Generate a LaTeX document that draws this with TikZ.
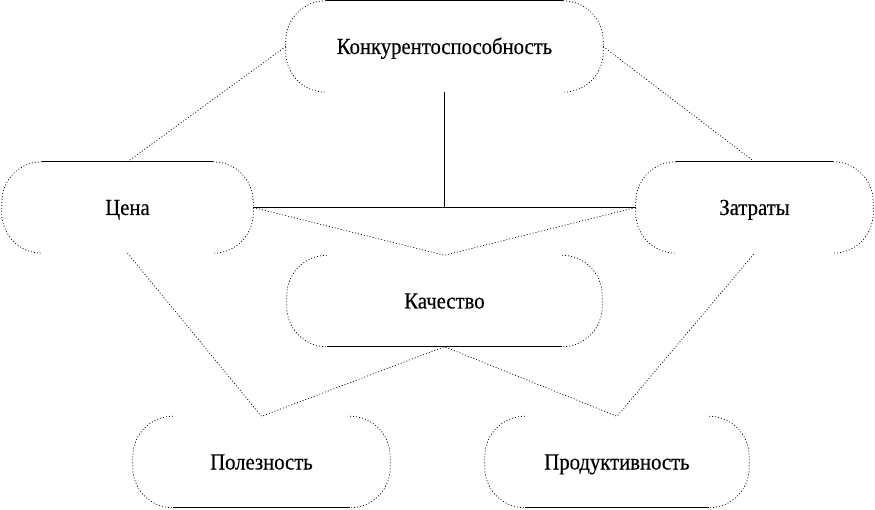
\documentclass[tikz,border=0pt]{standalone}
\usepackage{fontspec}
\setmainfont[FakeStretch=0.9,FakeBold=0.4]{Liberation Serif}
\begin{document}
\begin{tikzpicture}[x=1pt,y=-1pt,
  lbl/.style={draw=none,inner sep=0pt,minimum height=91pt,text height=15pt,text depth=0pt,font=\fontsize{23}{27}\selectfont},
  dotl/.style={line width=0.7pt,dash pattern=on 1pt off 2pt},
  soll/.style={line width=0.8pt}]
\useasboundingbox (0,0) rectangle (875,510);
\node[lbl,minimum width=317pt] (k) at (444.5,46.5) {Конкурентоспособность};
\node[lbl,minimum width=251pt] (c) at (127.5,207.5) {Цена};
\node[lbl,minimum width=237pt] (z) at (754.5,207.5) {Затраты};
\node[lbl,minimum width=315pt] (q) at (444.5,301) {Качество};
\node[lbl,minimum width=257pt] (p) at (261.5,462) {Полезность};
\node[lbl,minimum width=264pt] (r) at (617,462) {Продуктивность};
% rounded ends (dotted) and one solid straight edge
\foreach \n in {k,c,z,q,p,r}{
  \draw[dotl,rounded corners=40pt] ([xshift=40pt]\n.north west) -- (\n.north west) -- (\n.south west) -- ([xshift=40pt]\n.south west);
  \draw[dotl,rounded corners=40pt] ([xshift=-40pt]\n.north east) -- (\n.north east) -- (\n.south east) -- ([xshift=-40pt]\n.south east);
}
\foreach \n in {k,c,z}{
  \draw[soll] ([xshift=40pt]\n.north west) -- ([xshift=-40pt]\n.north east);
}
\foreach \n in {q,p,r}{
  \draw[soll] ([xshift=40pt]\n.south west) -- ([xshift=-40pt]\n.south east);
}
% connectors
\coordinate (m) at (k.south |- c.east);
\draw[dotl] (k.west) -- (c.north);
\draw[dotl] (k.east) -- (z.north);
\draw[soll] (k.south) -- (m);
\draw[soll] (c.east) -- (z.west);
\draw[dotl] (c.east) -- (q.north) -- (z.west);
\draw[dotl] (c.south) -- (p.north) -- (q.south) -- (r.north) -- (z.south);
\end{tikzpicture}
\end{document}
